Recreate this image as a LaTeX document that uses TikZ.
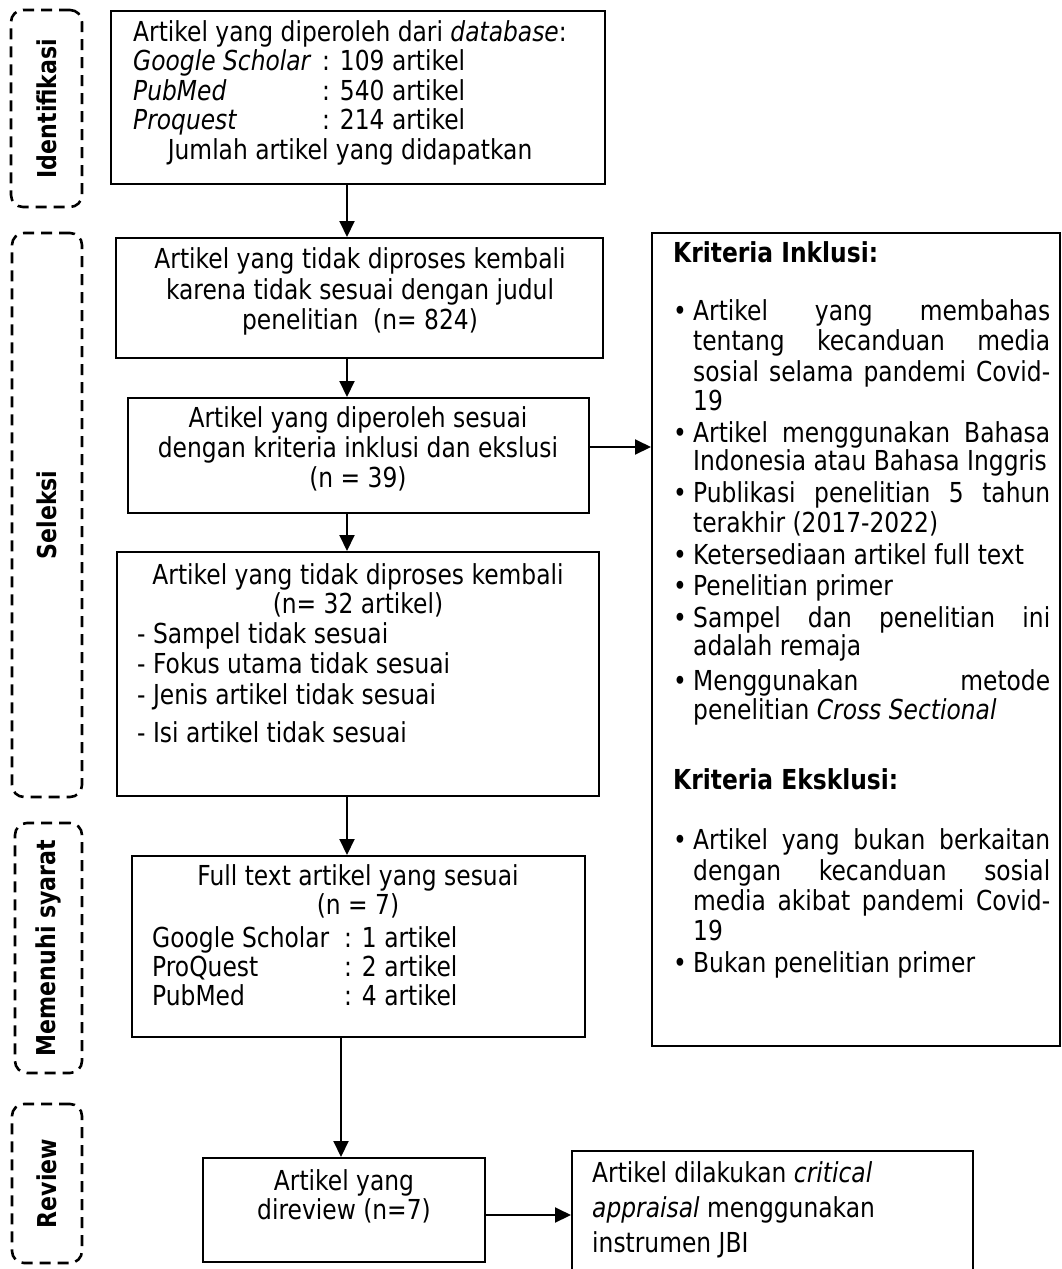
\documentclass[tikz,border=0pt]{standalone}
\usepackage{fontspec}
\setmainfont{DejaVu Sans}[FakeStretch=0.85]
\usetikzlibrary{arrows.meta}
\newcommand\fs{\fontsize{27.5}{30}\selectfont}
\newcommand\fsb{\fontsize{26}{28}\selectfont\bfseries}
\newcommand\jl[1]{\makebox[357pt][s]{#1}}
\begin{document}
\begin{tikzpicture}[x=1pt,y=-1pt,
  box/.style={draw, line width=2pt, rectangle, inner sep=0pt},
  lbl/.style={draw, line width=2.6pt, dash pattern=on 11pt off 7pt, rounded corners=12pt, rectangle, inner sep=0pt},
  lbltxt/.style={rotate=90, inner sep=0pt, font=\fsb},
  txt/.style={inner sep=0pt, font=\fs},
  tl/.style={txt, anchor=mid west},
  tc/.style={txt, anchor=mid},
  arr/.style={line width=2pt, -{Triangle[length=16pt,width=15pt]}}]
\clip (0,0) rectangle (1062,1269);
\fill[white] (0,0) rectangle (1062,1269);

% side labels
\node[lbl, minimum width=71pt, minimum height=197pt] (l1) at (46.5,108.5) {};
\node[lbl, minimum width=70pt, minimum height=564pt] (l2) at (47,515) {};
\node[lbl, minimum width=67pt, minimum height=250pt] (l3) at (48.5,948) {};
\node[lbl, minimum width=70pt, minimum height=159pt] (l4) at (47,1183.5) {};
\node[lbltxt] (l1t) at (l1.center) {Identifikasi};
\node[lbltxt] (l2t) at (l2.center) {Seleksi};
\node[lbltxt] (l3t) at (l3.center) {Memenuhi syarat};
\node[lbltxt] (l4t) at (l4.center) {Review};

% boxes
\node[box, minimum width=494pt, minimum height=173pt] (b1) at (358,97.5) {};
\node[box, minimum width=487pt, minimum height=120pt] (b2) at (359.5,298) {};
\node[box, minimum width=461pt, minimum height=115pt] (b3) at (358.5,455.5) {};
\node[box, minimum width=482pt, minimum height=244pt] (b4) at (358,674) {};
\node[box, minimum width=453pt, minimum height=181pt] (b5) at (358.5,946.5) {};
\node[box, minimum width=282pt, minimum height=104pt] (b6) at (344,1210) {};
\node[box, minimum width=401pt, minimum height=139pt] (b7) at (772.5,1220.5) {};
\node[box, minimum width=408pt, minimum height=813pt] (cr) at (856,639.5) {};

% box 1 text
\node[tl] (t11) at (133,38.5) {Artikel yang diperoleh dari \textit{database}:};
\node[tl] (t12) at (133,68) {\textit{Google Scholar}};
\node[tl] (t12b) at (322,68) {: 109 artikel};
\node[tl] (t13) at (133,97.5) {\textit{PubMed}};
\node[tl] (t13b) at (322,97.5) {: 540 artikel};
\node[tl] (t14) at (133,127) {\textit{Proquest}};
\node[tl] (t14b) at (322,127) {: 214 artikel};
\node[tc] (t15) at (350,156.5) {Jumlah artikel yang didapatkan};

% box 2 text
\node[tc] (t21) at (360,266) {Artikel yang tidak diproses kembali};
\node[tc] (t22) at (360,297) {karena tidak sesuai dengan judul};
\node[tc] (t23) at (360,327) {penelitian~~(n= 824)};

% box 3 text
\node[tc] (t31) at (358,425) {Artikel yang diperoleh sesuai};
\node[tc] (t32) at (358,455) {dengan kriteria inklusi dan ekslusi};
\node[tc] (t33) at (358,485) {(n = 39)};

% box 4 text
\node[tc] (t41) at (358,582) {Artikel yang tidak diproses kembali};
\node[tc] (t42) at (358,611) {(n= 32 artikel)};
\node[tl] (t43) at (137,641) {- Sampel tidak sesuai};
\node[tl] (t44) at (137,671) {- Fokus utama tidak sesuai};
\node[tl] (t45) at (137,702) {- Jenis artikel tidak sesuai};
\node[tl] (t46) at (137,740) {- Isi artikel tidak sesuai};

% box 5 text
\node[tc] (t51) at (358,883) {Full text artikel yang sesuai};
\node[tc] (t52) at (358,912) {(n = 7)};
\node[tl] (t53) at (152,945) {Google Scholar};
\node[tl] (t53b) at (344,945) {: 1 artikel};
\node[tl] (t54) at (152,974) {ProQuest};
\node[tl] (t54b) at (344,974) {: 2 artikel};
\node[tl] (t55) at (152,1003) {PubMed};
\node[tl] (t55b) at (344,1003) {: 4 artikel};

% box 6 text
\node[tc] (t61) at (344,1188) {Artikel yang};
\node[tc] (t62) at (344,1217) {direview (n=7)};

% box 7 text
\node[tl] (t71) at (592,1180) {Artikel dilakukan \textit{critical}};
\node[tl] (t72) at (592,1215) {\textit{appraisal} menggunakan};
\node[tl] (t73) at (592,1250) {instrumen JBI};

% criteria text
\node[tl, font=\fs\bfseries] (c0) at (673,260) {Kriteria Inklusi:};
\foreach \y/\n in {318/c1b,440/c2b,500/c3b,562/c4b,593/c5b,625/c6b,688/c7b,847/c9b,970/c10b}
  \node[tc] (\n) at (680,\y) {•};
\node[tl] (c11) at (693,318) {\jl{Artikel yang membahas}};
\node[tl] (c12) at (693,348) {\jl{tentang kecanduan media}};
\node[tl] (c13) at (693,379) {\jl{sosial selama pandemi Covid-}};
\node[tl] (c14) at (693,408) {19};
\node[tl] (c21) at (693,440) {\jl{Artikel menggunakan Bahasa}};
\node[tl] (c22) at (693,468) {Indonesia atau Bahasa Inggris};
\node[tl] (c31) at (693,500) {\jl{Publikasi penelitian 5 tahun}};
\node[tl] (c32) at (693,530) {terakhir (2017-2022)};
\node[tl] (c41) at (693,562) {Ketersediaan artikel full text};
\node[tl] (c51) at (693,593) {Penelitian primer};
\node[tl] (c61) at (693,625) {\jl{Sampel dan penelitian ini}};
\node[tl] (c62) at (693,653) {adalah remaja};
\node[tl] (c71) at (693,688) {\jl{Menggunakan metode}};
\node[tl] (c72) at (693,717) {penelitian \textit{Cross Sectional}};
\node[tl, font=\fs\bfseries] (c8) at (673,787) {Kriteria Eksklusi:};
\node[tl] (c91) at (693,847) {\jl{Artikel yang bukan berkaitan}};
\node[tl] (c92) at (693,878) {\jl{dengan kecanduan sosial}};
\node[tl] (c93) at (693,908) {\jl{media akibat pandemi Covid-}};
\node[tl] (c94) at (693,938) {19};
\node[tl] (c101) at (693,970) {Bukan penelitian primer};

% connectors
\coordinate (xa) at (347,0);
\coordinate (xb) at (341,0);
\coordinate (ya) at (0,447);
\coordinate (yb) at (0,1215);
\draw[arr] (b1.south -| xa) -- (b2.north -| xa);
\draw[arr] (b2.south -| xa) -- (b3.north -| xa);
\draw[arr] (b3.south -| xa) -- (b4.north -| xa);
\draw[arr] (b4.south -| xa) -- (b5.north -| xa);
\draw[arr] (b5.south -| xb) -- (b6.north -| xb);
\draw[arr] (b3.east |- ya) -- (cr.west |- ya);
\draw[arr] (b6.east |- yb) -- (b7.west |- yb);
\end{tikzpicture}
\end{document}
